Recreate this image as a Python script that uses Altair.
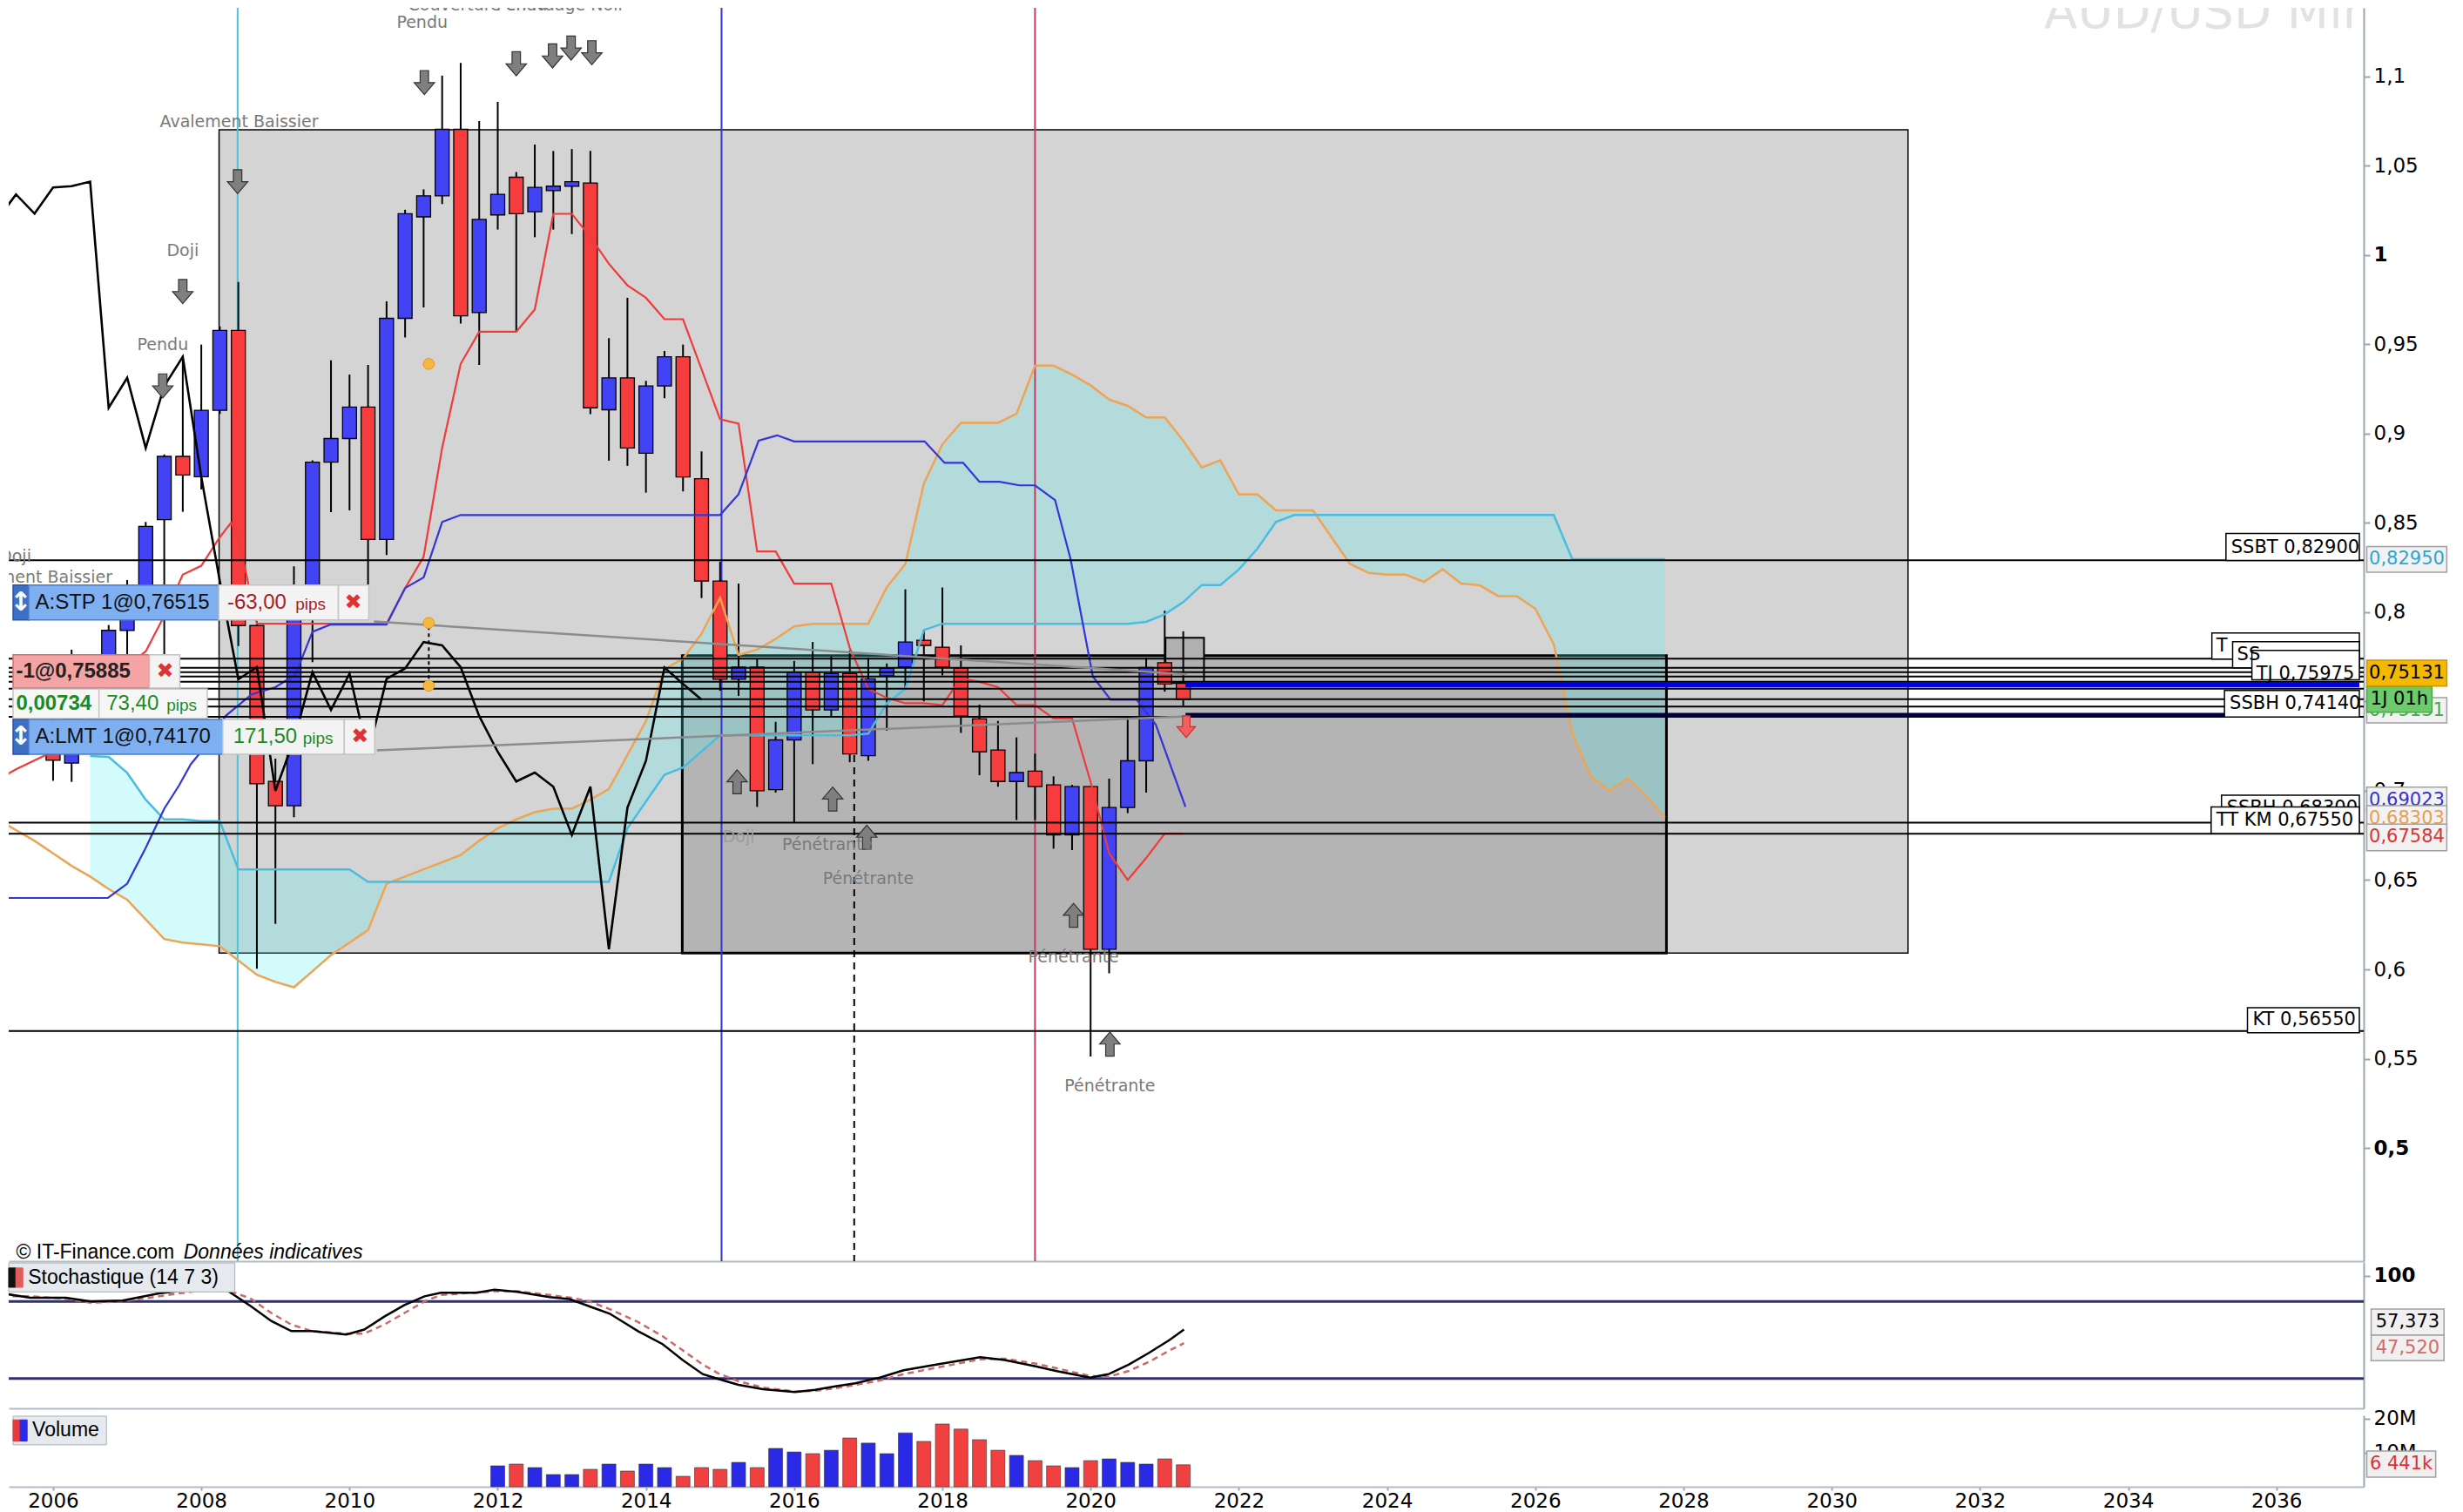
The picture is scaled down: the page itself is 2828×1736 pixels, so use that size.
import altair as alt
import pandas as pd

# ------------------------------------------------------------------ data
# quarterly candles, AUD/USD (positions = start of quarter)
candle_t = [2006.0 + 0.25 * i for i in range(62)]
opens = [0.7335, 0.7155, 0.7425, 0.7465,
         0.7898, 0.8085, 0.8518, 0.8872,
         0.8758, 0.9130, 0.9577, 0.7925,
         0.7053, 0.6916, 0.8050, 0.8840,
         0.8972, 0.9148, 0.8407, 0.9645,
         1.0213, 1.0331, 1.0703, 0.9677,
         1.0224, 1.0435, 1.0242, 1.0360,
         1.0385, 1.0403, 0.9133, 0.9312,
         0.8890, 0.9266, 0.9430, 0.8747,
         0.8174, 0.7624, 0.7692, 0.7006,
         0.7285, 0.7665, 0.7453, 0.7656,
         0.7197, 0.7642, 0.7694, 0.7843,
         0.7804, 0.7688, 0.7403, 0.7228,
         0.7052, 0.7110, 0.7033, 0.6753,
         0.7023, 0.6113, 0.6906, 0.7168,
         0.7717, 0.7602]
highs = [0.7625, 0.7790, 0.7735, 0.7928,
         0.8180, 0.8505, 0.8883, 0.9437,
         0.9498, 0.9600, 0.9849, 0.7950,
         0.7180, 0.8257, 0.8850, 0.9410,
         0.9330, 0.9384, 0.9740, 1.0253,
         1.0367, 1.1004, 1.1075, 1.0750,
         1.0857, 1.0464, 1.0618, 1.0582,
         1.0593, 1.0582, 0.9534, 0.9760,
         0.9295, 0.9462, 0.9498, 0.8900,
         0.8282, 0.8160, 0.7740, 0.7386,
         0.7727, 0.7833, 0.7752, 0.7785,
         0.7746, 0.7713, 0.8128, 0.7902,
         0.8138, 0.7814, 0.7482, 0.7391,
         0.7299, 0.7208, 0.7081, 0.7033,
         0.7023, 0.7068, 0.7411, 0.7746,
         0.8008, 0.7893]
lows = [0.7056, 0.7050, 0.7370, 0.7425,
        0.7680, 0.8065, 0.7740, 0.8562,
        0.8687, 0.9110, 0.7810, 0.6004,
        0.6255, 0.6852, 0.7720, 0.8560,
        0.8570, 0.8007, 0.8320, 0.9538,
        0.9706, 1.0285, 0.9616, 0.9384,
        1.0142, 0.9573, 1.0099, 1.0142,
        1.0117, 0.9108, 0.8848, 0.8819,
        0.8669, 0.9198, 0.8676, 0.8079,
        0.7560, 0.7531, 0.6910, 0.6990,
        0.6821, 0.7149, 0.7418, 0.7160,
        0.7168, 0.7337, 0.7569, 0.7501,
        0.7646, 0.7324, 0.7087, 0.7023,
        0.6836, 0.6836, 0.6676, 0.6668,
        0.5512, 0.5978, 0.6875, 0.6990,
        0.7555, 0.7476]
closes = [0.7171, 0.7425, 0.7465, 0.7898,
          0.8085, 0.8480, 0.8872, 0.8768,
          0.9130, 0.9577, 0.7925, 0.7040,
          0.6916, 0.8050, 0.8840, 0.8972,
          0.9148, 0.8407, 0.9645, 1.0231,
          1.0331, 1.0703, 0.9659, 1.0199,
          1.0339, 1.0231, 1.0378, 1.0385,
          1.0410, 0.9144, 0.9312, 0.8919,
          0.9266, 0.9430, 0.8757, 0.8174,
          0.7624, 0.7692, 0.7000, 0.7285,
          0.7665, 0.7453, 0.7656, 0.7206,
          0.7627, 0.7685, 0.7833, 0.7814,
          0.7692, 0.7418, 0.7218, 0.7052,
          0.7102, 0.7023, 0.6753, 0.7023,
          0.6113, 0.6906, 0.7168, 0.7690,
          0.7598, 0.7511]
chikou_shift = 6.5  # lagging line = closes drawn 26 quarters earlier

# Tenkan (red) and Kijun (blue)
tenkan_x = [2005.37, 2005.50, 2006.00, 2006.50, 2006.75, 2007.00, 2007.25, 2007.50, 2007.75,
            2008.00, 2008.25, 2008.40, 2008.50, 2008.75, 2010.50, 2010.75, 2011.00, 2011.25,
            2011.50, 2011.75, 2012.25, 2012.50, 2012.75, 2013.00, 2013.25, 2013.50, 2013.75,
            2014.00, 2014.25, 2014.50, 2014.75, 2015.00, 2015.25, 2015.50, 2015.75, 2016.00,
            2016.50, 2016.75, 2017.00, 2017.25, 2017.50, 2017.75, 2018.00, 2018.25, 2018.50,
            2018.75, 2019.00, 2019.25, 2019.50, 2019.75, 2020.00, 2020.25, 2020.50, 2020.75,
            2021.00, 2021.25]
tenkan_v = [0.709, 0.712, 0.722, 0.745, 0.760, 0.770, 0.778, 0.798, 0.821,
            0.826, 0.842, 0.850, 0.842, 0.7936, 0.7936, 0.8135, 0.831, 0.892,
            0.939, 0.957, 0.957, 0.9695, 1.023, 1.023, 1.010, 0.995, 0.983,
            0.976, 0.964, 0.964, 0.936, 0.908, 0.9055, 0.834, 0.834, 0.816,
            0.816, 0.780, 0.757, 0.752, 0.749, 0.749, 0.748, 0.763, 0.761,
            0.758, 0.748, 0.748, 0.7405, 0.7405, 0.705, 0.665, 0.650, 0.6624,
            0.676, 0.676]
kijun_x = [2005.37, 2006.74, 2007.00, 2007.25, 2007.50, 2007.70, 2007.86, 2008.00, 2008.33,
           2008.68, 2009.00, 2009.27, 2009.50, 2009.74, 2010.50, 2010.75, 2011.00, 2011.25,
           2011.50, 2015.00, 2015.25, 2015.52, 2015.77, 2016.00, 2017.76, 2018.03, 2018.28,
           2018.50, 2018.77, 2019.04, 2019.25, 2019.52, 2019.73, 2020.03, 2020.27, 2020.62,
           2020.88, 2021.28]
kijun_v = [0.640, 0.640, 0.648, 0.668, 0.690, 0.703, 0.715, 0.722, 0.742,
           0.754, 0.758, 0.765, 0.789, 0.793, 0.793, 0.8135, 0.8194, 0.8505,
           0.8544, 0.8544, 0.866, 0.896, 0.899, 0.8956, 0.8956, 0.8836, 0.8836,
           0.873, 0.873, 0.871, 0.871, 0.8628, 0.8297, 0.764, 0.751, 0.751,
           0.737, 0.691]

# cloud (quarterly from 2005.25 to 2027.75)
cloud_t = [2005.25 + 0.25 * i for i in range(91)]
ssb_v = [0.684, 0.678, 0.672, 0.665, 0.658,
         0.652, 0.645, 0.639, 0.628, 0.617, 0.615, 0.614, 0.613,
         0.605, 0.597, 0.593, 0.590, 0.599, 0.608, 0.615, 0.622,
         0.648, 0.652, 0.656, 0.660, 0.664, 0.672, 0.679, 0.684,
         0.688, 0.690, 0.690, 0.695, 0.701, 0.720, 0.739, 0.768,
         0.774, 0.788, 0.808, 0.776, 0.779, 0.785, 0.792, 0.7935,
         0.7935, 0.7935, 0.7935, 0.814, 0.827, 0.872, 0.894, 0.906,
         0.906, 0.906, 0.911, 0.938, 0.938, 0.933, 0.927, 0.919,
         0.9155, 0.909, 0.909, 0.896, 0.881, 0.885, 0.866, 0.866,
         0.857, 0.857, 0.857, 0.842, 0.827, 0.822, 0.821, 0.821,
         0.817, 0.824, 0.816, 0.815, 0.809, 0.809, 0.802, 0.782,
         0.732, 0.708, 0.700, 0.707, 0.697, 0.685]
ssa_v = [None, None, None, None, None,
         0.7195, 0.719, 0.710, 0.695, 0.684, 0.684, 0.683, 0.683,
         0.656, 0.656, 0.656, 0.656, 0.656, 0.656, 0.656, 0.649,
         0.649, 0.649, 0.649, 0.649, 0.649, 0.649, 0.649, 0.649,
         0.649, 0.649, 0.649, 0.649, 0.649, 0.679, 0.694, 0.709,
         0.713, 0.722, 0.731, 0.731, 0.731, 0.731, 0.731, 0.731,
         0.731, 0.731, 0.732, 0.749, 0.757, 0.790, 0.7935, 0.7935,
         0.7935, 0.7935, 0.7935, 0.7935, 0.7935, 0.7935, 0.7935, 0.7935,
         0.7935, 0.7946, 0.7988, 0.8056, 0.8152, 0.8152, 0.8239, 0.8355,
         0.8505, 0.8544, 0.8544, 0.8544, 0.8544, 0.8544, 0.8544, 0.8544,
         0.8544, 0.8544, 0.8544, 0.8544, 0.8544, 0.8544, 0.8544, 0.8544,
         0.8297, 0.8297, 0.8297, 0.8297, 0.8297, 0.8297]

# stochastic (14 7 3)
stoch_x = [2005.37, 2005.75, 2006.23, 2006.56, 2006.99, 2007.48, 2007.97, 2008.40, 2008.72,
           2008.99, 2009.26, 2009.53, 2010.00, 2010.24, 2010.51, 2010.78, 2011.05, 2011.27,
           2011.75, 2011.99, 2012.30, 2012.73, 2013.00, 2013.27, 2013.54, 2013.92, 2014.25,
           2014.52, 2014.79, 2015.00, 2015.27, 2015.60, 2016.03, 2016.30, 2016.57, 2016.84,
           2017.17, 2017.49, 2017.98, 2018.52, 2018.85, 2019.28, 2019.55, 2020.00, 2020.25,
           2020.52, 2020.79, 2021.07, 2021.26]
stoch_k = [86.3, 82.9, 82.9, 80.0, 80.6, 86.3, 89.6, 88.5, 76.1,
           64.8, 56.9, 56.9, 54.2, 58.1, 68.2, 77.2, 84.0, 86.7,
           86.7, 89.2, 87.4, 83.3, 81.8, 76.1, 70.5, 56.9, 46.8,
           34.4, 23.5, 19.7, 15.2, 11.8, 9.5, 11.3, 14.0, 16.3,
           20.8, 26.5, 31.4, 36.6, 34.4, 29.4, 25.8, 20.8, 23.5,
           31.0, 40.0, 50.2, 58.1]
stoch_d = [84, 84, 82, 79, 80, 84, 88, 89, 82,
           71, 62, 57, 55, 55, 62, 71, 80, 85,
           87, 88, 88, 85, 83, 80, 74, 64, 53,
           42, 31, 24, 18, 13, 10, 10.5, 12.5, 15,
           18.5, 23.5, 29, 35, 35.5, 31.5, 28, 22, 21.5,
           26, 33, 42, 47.5]

# volume (millions), 2012 Q1 .. 2021 Q2
vol_t = [2012.0 + 0.25 * i for i in range(38)]
vol_m = [6.13, 6.64, 5.62, 3.58, 3.58, 5.11, 6.64, 4.60, 6.64, 5.62,
         3.06, 5.62, 5.11, 7.15, 5.62, 11.24, 10.2, 9.7, 10.7, 14.3,
         12.8, 9.7, 15.8, 13.3, 18.4, 16.9, 13.8, 10.7, 9.2, 7.66,
         6.13, 5.62, 7.66, 8.17, 7.15, 6.64, 8.17, 6.44]

# horizontal price levels (thin black lines)
level_v = [0.8291, 0.7740, 0.7689, 0.7664, 0.7640, 0.7610, 0.7571, 0.7513,
           0.7472, 0.7414, 0.6822, 0.6760, 0.5655]

x_ticks = [2006, 2008, 2010, 2012, 2014, 2016, 2018, 2020, 2022, 2024, 2026,
           2028, 2030, 2032, 2034, 2036]
y_ticks = [0.5, 0.55, 0.6, 0.65, 0.7, 0.75, 0.8, 0.85, 0.9, 0.95, 1.0, 1.05, 1.1]

# ------------------------------------------------------------------ scales / axes
XMIN, XMAX = 2005.46, 2037.12
YMIN, YMAX = 0.43666, 1.13833
SMIN, SMAX = -3.14, 110.63
VMAX = 20.94
W, H_MAIN, H_STO, H_VOL = 2704, 1439, 168, 82
FONT = "DejaVu Sans"
NARROW = "Liberation Sans"
AX_GREY = "#9aa6b0"

xs = alt.Scale(domain=[XMIN, XMAX], nice=False, zero=False)
sep_axis = alt.Axis(title=None, labels=False, ticks=False, grid=False, domain=True,
                    domainColor="#b4bcc4", domainWidth=2)
bottom_axis = alt.Axis(title=None, values=x_ticks, format="d", grid=False, domain=True,
                       domainColor="#b4bcc4", domainWidth=2, ticks=True, tickColor=AX_GREY,
                       tickSize=4, tickWidth=2, labelFontSize=23, labelColor="black",
                       labelPadding=1, labelFont=FONT)


def right_axis(values, expr, weight):
    return alt.Axis(title=None, orient="right", values=values, grid=False, domain=True,
                    domainColor=AX_GREY, domainWidth=2, tickColor=AX_GREY, tickSize=7,
                    tickWidth=2, labelFontSize=23, labelColor="black", labelPadding=4,
                    labelFont=FONT, labelExpr=expr, labelFontWeight=weight)


main_yaxis = right_axis(y_ticks, "replace(format(datum.value, '.2~f'), '.', ',')",
                        {"expr": "(datum.value == 1 || datum.value == 0.5) ? 'bold' : 'normal'"})
sto_yaxis = right_axis([100], "'100'", "bold")
vol_yaxis = right_axis([10, 20], "datum.value + 'M'", "normal")

ys_main = alt.Scale(domain=[YMIN, YMAX], nice=False, zero=False)
ys_sto = alt.Scale(domain=[SMIN, SMAX], nice=False, zero=False)
ys_vol = alt.Scale(domain=[0, VMAX], nice=False, zero=False)


def mk(ys, yaxis, xaxis):
    def X(f):
        return alt.X(f, type="quantitative", scale=xs, axis=xaxis)

    def Y(f):
        return alt.Y(f, type="quantitative", scale=ys, axis=yaxis)
    return X, Y


MX, MY = mk(ys_main, main_yaxis, sep_axis)
SX, SY = mk(ys_sto, sto_yaxis, sep_axis)
VX, VY = mk(ys_vol, vol_yaxis, bottom_axis)


def boxes(rows, X, Y, sw=1.5):
    df = pd.DataFrame(rows, columns=["x", "x2", "y", "y2", "fill", "stroke"])
    return alt.Chart(df).mark_rect(strokeWidth=sw).encode(
        x=X("x"), x2=alt.X2("x2"), y=Y("y"), y2=alt.Y2("y2"),
        fill=alt.Fill("fill:N", scale=None), stroke=alt.Stroke("stroke:N", scale=None))


def texts(rows, X, Y, align="left", size=22, weight="normal", style="normal", clip=True,
          font=FONT):
    df = pd.DataFrame(rows, columns=["x", "y", "text", "color"])
    return alt.Chart(df).mark_text(align=align, baseline="middle", fontSize=size,
                                   fontWeight=weight, fontStyle=style, font=font,
                                   clip=clip).encode(
        x=X("x"), y=Y("y"), text="text:N", color=alt.Color("color:N", scale=None))


# ------------------------------------------------------------------ main panel
candles = pd.DataFrame({"t": candle_t, "o": opens, "h": highs, "l": lows, "c": closes})
candles["col"] = ["#4343f6" if c >= o else "#f63c3c" for o, c in zip(opens, closes)]
chikou = candles[candles["t"] >= 2011.75].assign(x=lambda d: d["t"] - chikou_shift)
tenkan = pd.DataFrame({"x": tenkan_x, "v": tenkan_v})
kijun = pd.DataFrame({"x": kijun_x, "v": kijun_v})
cloud = pd.DataFrame({"x": cloud_t, "ssa": ssa_v, "ssb": ssb_v})
cloud_a = cloud.dropna()

layers = []
layers.append(boxes([[2008.24, 2031.03, 0.6092, 1.0701, "#d4d4d4", "#000000"]], MX, MY, 1.5))
layers.append(boxes([[2014.49, 2027.77, 0.6092, 0.7757, "#b4b4b4", "#000000"]], MX, MY, 3))
layers.append(boxes([[2021.01, 2021.53, 0.7603, 0.7857, "#b0b0b0", "#000000"]], MX, MY, 2))
layers.append(alt.Chart(cloud_a).mark_area(color="#55f0f0", opacity=0.25).encode(
    x=MX("x"), y=MY("ssa"), y2=alt.Y2("ssb")))

vlines = pd.DataFrame({"x": [2008.49, 2015.02, 2019.25],
                       "col": ["#4cc2d4", "#3535c8", "#c23a64"]})
layers.append(alt.Chart(vlines).mark_rule(strokeWidth=2).encode(
    x=MX("x"), color=alt.Color("col:N", scale=None)))
layers.append(alt.Chart(pd.DataFrame({"x": [2016.81], "y": [0.72], "y2": [YMIN]}))
              .mark_rule(color="black", strokeWidth=2, strokeDash=[8, 6]).encode(
    x=MX("x"), y=MY("y"), y2=alt.Y2("y2")))

# candles
layers.append(alt.Chart(candles).mark_rule(color="black", strokeWidth=2).encode(
    x=MX("t"), y=MY("l"), y2=alt.Y2("h")))
layers.append(alt.Chart(candles).mark_bar(size=16, stroke="black", strokeWidth=1.3).encode(
    x=MX("t"), y=MY("o"), y2=alt.Y2("c"), color=alt.Color("col:N", scale=None)))

# ichimoku lines
layers.append(alt.Chart(cloud).mark_line(color="#eea455", strokeWidth=2.5, clip=True).encode(
    x=MX("x"), y=MY("ssb")))
layers.append(alt.Chart(cloud_a).mark_line(color="#48bde0", strokeWidth=2.5, clip=True).encode(
    x=MX("x"), y=MY("ssa")))
layers.append(alt.Chart(tenkan).mark_line(color="#ee3b3b", strokeWidth=2.2, clip=True).encode(
    x=MX("x"), y=MY("v")))
layers.append(alt.Chart(kijun).mark_line(color="#3434d8", strokeWidth=2.2, clip=True).encode(
    x=MX("x"), y=MY("v")))
layers.append(alt.Chart(chikou).mark_line(color="black", strokeWidth=2.6, clip=True).encode(
    x=MX("x"), y=MY("c")))

# horizontal levels
layers.append(alt.Chart(pd.DataFrame({"v": level_v})).mark_rule(
    color="black", strokeWidth=2).encode(y=MY("v")))
thick = pd.DataFrame({"x": [2021.28, 2021.28], "x2": [XMAX, XMAX], "v": [0.7594, 0.7424],
                      "col": ["#0000e0", "#00003a"], "w": [6, 5]})
layers.append(alt.Chart(thick).mark_rule().encode(
    x=MX("x"), x2=alt.X2("x2"), y=MY("v"), color=alt.Color("col:N", scale=None),
    strokeWidth=alt.StrokeWidth("w:Q", scale=None)))
leaders = pd.DataFrame({"x": [2010.33, 2010.37], "y": [0.7948, 0.7227],
                        "x2": [2021.30, 2021.30], "y2": [0.7652, 0.7417]})
layers.append(alt.Chart(leaders).mark_rule(color="#8c8c8c", strokeWidth=2.5).encode(
    x=MX("x"), y=MY("y"), x2=alt.X2("x2"), y2=alt.Y2("y2")))

# orange markers
layers.append(alt.Chart(pd.DataFrame({"x": [2011.07], "y": [0.7588], "y2": [0.794]}))
              .mark_rule(color="black", strokeWidth=2, strokeDash=[4, 4]).encode(
    x=MX("x"), y=MY("y"), y2=alt.Y2("y2")))
layers.append(alt.Chart(pd.DataFrame({"x": [2011.07, 2011.07, 2011.07],
                                      "y": [0.794, 0.7588, 0.939]}))
              .mark_point(shape="circle", filled=True, fill="#f6b93e", stroke="#e0962a",
                          strokeWidth=1, size=160, opacity=1).encode(x=MX("x"), y=MY("y")))

# pattern arrows
DOWN = "M-0.35,-1L0.35,-1L0.35,0L0.85,0L0,1L-0.85,0L-0.35,0Z"
UP = "M-0.35,1L0.35,1L0.35,0L0.85,0L0,-1L-0.85,0L-0.35,0Z"
down_arrows = pd.DataFrame({"x": [2007.48, 2007.75, 2008.49, 2011.01, 2012.25, 2012.74, 2012.99, 2013.27],
                            "y": [0.9267, 0.9795, 1.041, 1.0965, 1.107, 1.1114, 1.1158, 1.1132]})
up_arrows = pd.DataFrame({"x": [2015.23, 2016.52, 2016.98, 2019.77, 2020.26],
                          "y": [0.705, 0.6954, 0.674, 0.6303, 0.5582]})
layers.append(alt.Chart(down_arrows).mark_point(shape=DOWN, filled=True, fill="#7f7f7f",
                                                stroke="#333333", strokeWidth=1.2, size=760,
                                                opacity=1).encode(x=MX("x"), y=MY("y")))
layers.append(alt.Chart(up_arrows).mark_point(shape=UP, filled=True, fill="#7f7f7f",
                                              stroke="#333333", strokeWidth=1.2, size=760,
                                              opacity=1).encode(x=MX("x"), y=MY("y")))
layers.append(alt.Chart(pd.DataFrame({"x": [2021.29], "y": [0.7359]}))
              .mark_point(shape=DOWN, filled=True, fill="#f06060", stroke="#c83030",
                          strokeWidth=1.2, size=620, opacity=1).encode(x=MX("x"), y=MY("y")))

# pattern labels
PG = "#7a7a7a"
layers.append(texts([[2008.51, 1.0745, "Avalement Baissier", PG],
                     [2007.75, 1.0024, "Doji", PG],
                     [2007.48, 0.9496, "Pendu", PG],
                     [2010.98, 1.1300, "Pendu", PG],
                     [2015.25, 0.6743, "Doji", "#9c9c9c"],
                     [2016.45, 0.6699, "Pénétrante", PG],
                     [2017.00, 0.6506, "Pénétrante", PG],
                     [2019.77, 0.6066, "Pénétrante", PG],
                     [2020.26, 0.5345, "Pénétrante", PG]], MX, MY, align="center", size=19))
layers.append(texts([[2010.79, 1.1398, "Couverture en Nuage Noir", PG],
                     [2011.98, 1.1398, "Pendu", PG]], MX, MY, align="left", size=19))
layers.append(texts([[2005.706, 0.8309, "Doji", PG],
                     [2006.80, 0.8194, "Avalement Baissier", PG]], MX, MY, align="right", size=19))

# order tickets (left)
layers.append(boxes([
    [XMIN, 2005.67, 0.7957, 0.8152, "#3d6fc4", "#2a56a0"],
    [2005.67, 2008.235, 0.7957, 0.8152, "#7eaff0", "#4a7cc8"],
    [2008.235, 2009.85, 0.7957, 0.8152, "#f3f3f3", "#c4c4c4"],
    [2009.85, 2010.26, 0.7957, 0.8152, "#f3f3f3", "#c4c4c4"],
    [XMIN, 2007.30, 0.7575, 0.7762, "#f4a4a4", "#d27070"],
    [2007.30, 2007.71, 0.7575, 0.7762, "#f3f3f3", "#c4c4c4"],
    [XMIN, 2006.62, 0.7404, 0.7570, "#f6f6f6", "#c4c4c4"],
    [2006.62, 2008.08, 0.7404, 0.7570, "#f6f6f6", "#c4c4c4"],
    [XMIN, 2005.67, 0.7204, 0.7399, "#3d6fc4", "#2a56a0"],
    [2005.67, 2008.29, 0.7204, 0.7399, "#7eaff0", "#4a7cc8"],
    [2008.29, 2009.93, 0.7204, 0.7399, "#f3f3f3", "#c4c4c4"],
    [2009.93, 2010.34, 0.7204, 0.7399, "#f3f3f3", "#c4c4c4"],
], MX, MY, 1.5))
layers.append(texts([[2005.565, 0.8055, "↕", "white"],
                     [2005.565, 0.7302, "↕", "white"]], MX, MY, align="center", size=30,
                    weight="bold", clip=False))
layers.append(texts([[2005.76, 0.8055, "A:STP  1@0,76515", "#111111"],
                     [2005.76, 0.7302, "A:LMT  1@0,74170", "#111111"],
                     [2008.35, 0.8055, "-63,00", "#a81e1e"],
                     [2008.43, 0.7302, "171,50", "#1f8a1f"],
                     [2006.72, 0.7487, "73,40", "#1f8a1f"]], MX, MY, size=24, clip=False,
                    font=NARROW))
layers.append(texts([[2009.27, 0.8045, "pips", "#a81e1e"],
                     [2009.37, 0.7292, "pips", "#1f8a1f"],
                     [2007.53, 0.7477, "pips", "#1f8a1f"]], MX, MY, size=19, clip=False,
                    font=NARROW))
layers.append(texts([[2005.50, 0.7669, "-1@0,75885", "#222222"],
                     [2005.50, 0.7487, "0,00734", "#1f8a1f"]], MX, MY, size=24, weight="bold",
                    clip=False, font=NARROW))
layers.append(texts([[2010.05, 0.8055, "✖", "#dd3333"],
                     [2007.51, 0.7669, "✖", "#dd3333"],
                     [2010.14, 0.7302, "✖", "#dd3333"]], MX, MY, align="center", size=24,
                    clip=False))

# level labels (right, inside plot)
layers.append(boxes([
    [2035.32, XMAX, 0.8289, 0.8440, "white", "black"],
    [2035.13, XMAX, 0.7737, 0.7884, "white", "black"],
    [2035.41, XMAX, 0.7689, 0.7835, "white", "black"],
    [2035.67, XMAX, 0.7622, 0.7786, "white", "black"],
    [2035.30, XMAX, 0.7413, 0.7562, "white", "black"],
    [2035.26, XMAX, 0.6824, 0.6975, "white", "black"],
    [2035.61, XMAX, 0.5645, 0.5786, "white", "black"],
], MX, MY, 1.5))
layers.append(texts([[2035.39, 0.8362, "SSBT 0,82900", "black"],
                     [2035.19, 0.7810, "T", "black"],
                     [2035.47, 0.7762, "SS", "black"],
                     [2035.73, 0.7652, "TJ 0,75975", "black"],
                     [2035.37, 0.7485, "SSBH 0,74140", "black"],
                     [2035.33, 0.6900, "SSBH 0,68300", "black"],
                     [2035.68, 0.5715, "KT 0,56550", "black"]], MX, MY, size=21, clip=False))
layers.append(boxes([[2035.12, XMAX, 0.6761, 0.6909, "white", "black"]], MX, MY, 1.5))
layers.append(texts([[2035.19, 0.6835, "TT KM 0,67550", "black"]], MX, MY, size=21, clip=False))

# price tags (right of axis)
TX0, TX1 = 2037.22, 2038.30
tag_rows = [
    [TX0, TX1, 0.8224, 0.8367, "#f2f2f2", "#a0a0a0", "0,82950", "#2ea6d0"],
    [TX0, TX1, 0.7380, 0.7521, "#f2f2f2", "#a0a0a0", "0,75131", "#45aa45"],
    [TX0, 2038.10, 0.7440, 0.7585, "#6ccc6c", "#4aa84a", "1J 01h", "black"],
    [TX0, TX1, 0.7586, 0.7731, "#f5b800", "#d29400", "0,75131", "black"],
    [TX0, TX1, 0.6875, 0.7021, "#f2f2f2", "#a0a0a0", "0,69023", "#3535cc"],
    [TX0, TX1, 0.6771, 0.6917, "#f2f2f2", "#a0a0a0", "0,68303", "#e8a04e"],
    [TX0, TX1, 0.6665, 0.6813, "#f2f2f2", "#a0a0a0", "0,67584", "#dd3333"],
]
for r in tag_rows:
    layers.append(boxes([r[:6]], MX, MY, 1.5))
    layers.append(texts([[(r[0] + r[1]) / 2, (r[2] + r[3]) / 2, r[6], r[7]]], MX, MY,
                        align="center", size=21, clip=False))

# credits and watermark
layers.append(texts([[2005.50, 0.4415, "© IT-Finance.com", "black"]], MX, MY, size=23,
                    font=NARROW))
layers.append(texts([[2007.76, 0.4415, "Données indicatives", "black"]], MX, MY, size=23,
                    style="italic", font=NARROW))
layers.append(texts([[2035.18, 1.1354, "AUD/USD Mini", "#e2e2e2"]], MX, MY, align="center",
                    size=56))

main = alt.layer(*layers).properties(width=W, height=H_MAIN)

# ------------------------------------------------------------------ stochastic panel
sto = pd.DataFrame({"x": stoch_x, "k": stoch_k, "d": stoch_d})
s_layers = [
    alt.Chart(pd.DataFrame({"v": [80, 20]})).mark_rule(color="#2e2e7a", strokeWidth=3).encode(
        y=SY("v")),
    alt.Chart(sto).mark_line(color="#c86a6a", strokeWidth=2.5, strokeDash=[7, 5], clip=True)
    .encode(x=SX("x"), y=SY("d")),
    alt.Chart(sto).mark_line(color="black", strokeWidth=2.5, clip=True).encode(
        x=SX("x"), y=SY("k")),
    boxes([[XMIN, 2008.50, 87.4, 109.9, "#e6eaee", "#a9b1b9"],
           [XMIN, 2005.556, 91.0, 106.0, "#111111", "#111111"],
           [2005.556, 2005.65, 91.0, 106.0, "#e25a5a", "#e25a5a"]], SX, SY, 1),
    texts([[2005.72, 98.6, "Stochastique (14 7 3)", "black"]], SX, SY, size=23, font=NARROW),
    boxes([[TX0, 2038.20, 53.7, 74.0, "#f0f0f0", "#a0a0a0"],
           [TX0, 2038.20, 33.9, 53.7, "#f0f0f0", "#a0a0a0"]], SX, SY, 1.5),
    texts([[2037.71, 63.8, "57,373", "black"],
           [2037.71, 43.8, "47,520", "#d46a6a"]], SX, SY, align="center", size=21, clip=False),
]
stoch = alt.layer(*s_layers).properties(width=W, height=H_STO)

# ------------------------------------------------------------------ volume panel
vol = pd.DataFrame({"t": vol_t, "v": vol_m})
col_by_t = dict(zip(candle_t, candles["col"]))
vol["col"] = [("#2a2ae6" if col_by_t[t] == "#4343f6" else "#f04040") for t in vol_t]
v_layers = [
    alt.Chart(vol).mark_bar(size=16, stroke="#333333", strokeWidth=0.6).encode(
        x=VX("t"), y=VY("v"), color=alt.Color("col:N", scale=None)),
    boxes([[XMIN, 2006.72, 12.3, 20.7, "#e6eaee", "#a9b1b9"],
           [XMIN, 2005.556, 13.4, 19.6, "#e83a3a", "#e83a3a"],
           [2005.556, 2005.65, 13.4, 19.6, "#2a2ae6", "#2a2ae6"]], VX, VY, 1),
    texts([[2005.72, 16.5, "Volume", "black"]], VX, VY, size=23, font=NARROW),
    boxes([[TX0, 2038.15, 2.8, 10.5, "#f0f0f0", "#a0a0a0"]], VX, VY, 1.5),
    texts([[2037.685, 6.65, "6 441k", "#dd3333"]], VX, VY, align="center", size=21, clip=False),
]
volume = alt.layer(*v_layers).properties(width=W, height=H_VOL)

chart = alt.vconcat(main, stoch, volume, spacing=0, padding=0)
chart = chart.configure(font=FONT).configure_view(strokeWidth=0)

chart.save("out.html", embed_options={"renderer": "svg", "actions": False})
